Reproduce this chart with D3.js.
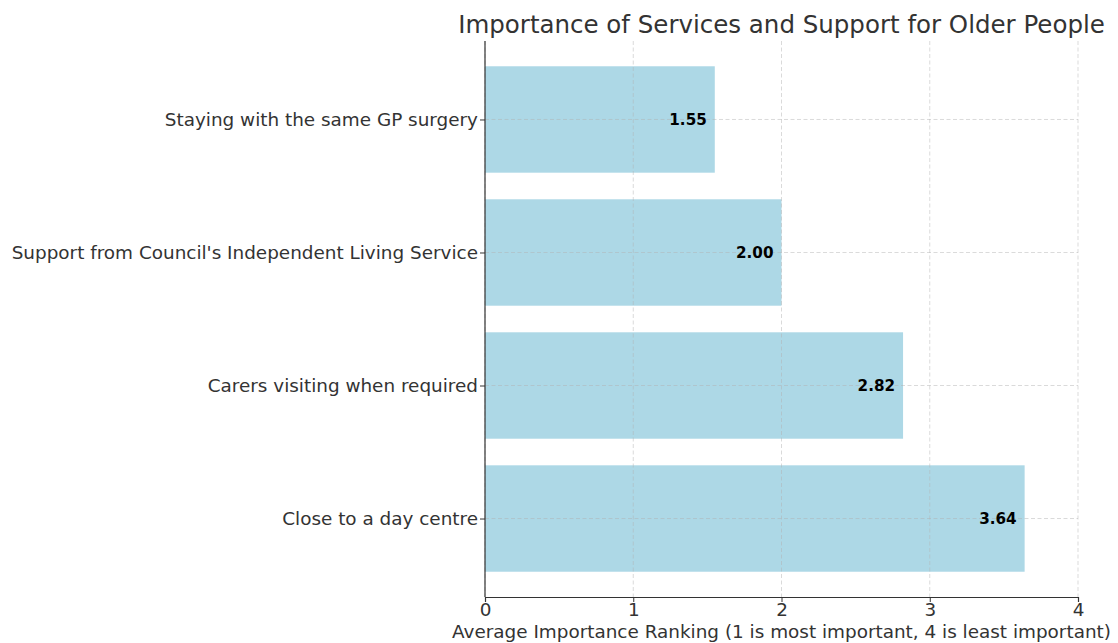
<!DOCTYPE html>
<html>
<head>
<meta charset="utf-8">
<script src="https://cdn.jsdelivr.net/npm/d3@7"></script>
<style>
  body { margin: 0; background: #fff; }
  svg { font-family: "DejaVu Sans", sans-serif; }
</style>
</head>
<body>
<svg id="chart" width="1118" height="643"></svg>
<script>
const categories = [
  "Staying with the same GP surgery",
  "Support from Council's Independent Living Service",
  "Carers visiting when required",
  "Close to a day centre"
];
const values = [1.55, 2.00, 2.82, 3.64];
const xTicks = [0, 1, 2, 3, 4];
const title = "Importance of Services and Support for Older People";
const xLabel = "Average Importance Ranking (1 is most important, 4 is least important)";

(function () {
const svg = d3.select("#chart");
const mLeft = 485, mRight = 1078, mTop = 41, mBottom = 597;

const x = d3.scaleLinear().domain([0, 4]).range([mLeft, mRight]);
const n = categories.length;
const pad = 0.05 * (n - 1 + 0.8);
const y = d3.scaleLinear().domain([-0.4 - pad, n - 1 + 0.4 + pad]).range([mTop, mBottom]);
const barH = Math.abs(y(0.8) - y(0));

svg.append("g").selectAll("rect").data(values).join("rect")
  .attr("x", x(0))
  .attr("y", (d, i) => y(i) - barH / 2)
  .attr("width", d => x(d) - x(0))
  .attr("height", barH)
  .attr("fill", "#add8e6");

const grid = svg.append("g").attr("stroke", "#b0b0b0").attr("stroke-opacity", 0.6)
  .attr("stroke-dasharray", "4,2.5").attr("stroke-width", 0.8);
grid.selectAll("line.v").data(xTicks).join("line").attr("class", "v")
  .attr("x1", d => x(d)).attr("x2", d => x(d)).attr("y1", mTop).attr("y2", mBottom);
grid.selectAll("line.h").data(categories).join("line").attr("class", "h")
  .attr("x1", mLeft).attr("x2", mRight).attr("y1", (d, i) => y(i)).attr("y2", (d, i) => y(i));

const xAxis = d3.axisBottom(x).tickValues(xTicks).tickFormat(d3.format("d")).tickSize(5).tickPadding(1);
const gx = svg.append("g").attr("transform", `translate(0,${mBottom})`).call(xAxis);
gx.select(".domain").attr("stroke", "#333").attr("stroke-width", 1.2);
gx.selectAll(".tick line").attr("stroke", "#333");
gx.selectAll(".tick text").attr("font-size", 18.4).attr("fill", "#333").attr("font-family", "DejaVu Sans");

const yAxis = d3.axisLeft(y).tickValues(d3.range(n)).tickFormat(i => categories[i]).tickSize(5).tickPadding(2);
const gy = svg.append("g").attr("transform", `translate(${mLeft},0)`).call(yAxis);
gy.select(".domain").attr("stroke", "#333").attr("stroke-width", 1.2).attr("d", `M0,${mTop}V${mBottom}`);
gy.selectAll(".tick line").attr("stroke", "#333");
gy.selectAll(".tick text").attr("font-size", 18.4).attr("fill", "#333").attr("font-family", "DejaVu Sans");

svg.append("g").selectAll("text").data(values).join("text")
  .attr("x", d => x(d) - 8)
  .attr("y", (d, i) => y(i))
  .attr("dy", "0.35em")
  .attr("text-anchor", "end")
  .attr("font-weight", "bold")
  .attr("font-size", 15.2)
  .attr("fill", "#000")
  .text(d => d.toFixed(2));

svg.append("text").attr("x", (mLeft + mRight) / 2).attr("y", 33)
  .attr("text-anchor", "middle").attr("font-size", 24.5).attr("fill", "#333").text(title);

svg.append("text").attr("x", (mLeft + mRight) / 2).attr("y", 638)
  .attr("text-anchor", "middle").attr("font-size", 18.4).attr("fill", "#333").text(xLabel);
})();
</script>
</body>
</html>
